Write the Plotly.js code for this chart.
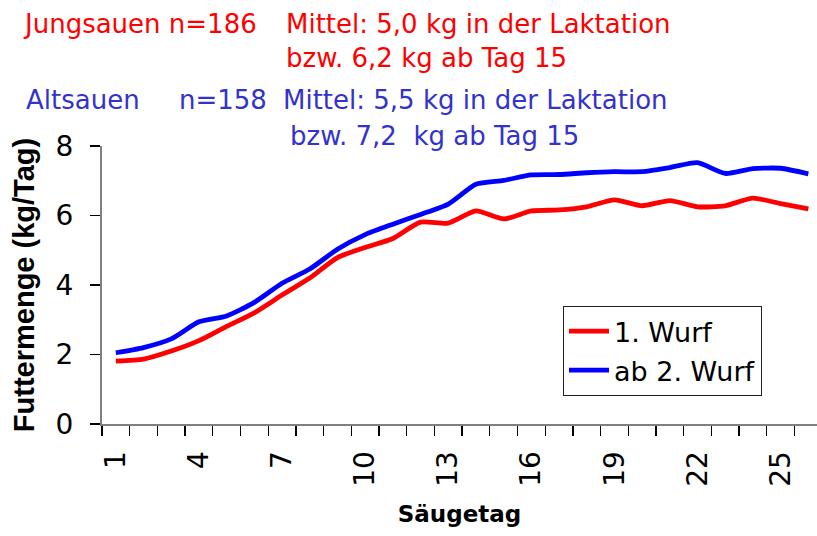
<!DOCTYPE html>
<html>
<head>
<meta charset="utf-8">
<script src="https://cdn.plot.ly/plotly-3.0.1.min.js"></script>
<style>html,body{margin:0;padding:0;background:#fff;}#chart{width:817px;height:536px;}</style>
</head>
<body>
<div id="chart"></div>
<script>
// Säugetag (day of lactation)
const days = [1,2,3,4,5,6,7,8,9,10,11,12,13,14,15,16,17,18,19,20,21,22,23,24,25,26];
// 1. Wurf (Jungsauen) – Futtermenge kg/Tag
const wurf1 = [1.81,1.87,2.10,2.40,2.81,3.20,3.71,4.20,4.79,5.08,5.34,5.81,5.78,6.13,5.90,6.13,6.16,6.25,6.45,6.28,6.43,6.25,6.28,6.50,6.34,6.19];
// ab 2. Wurf (Altsauen)
const wurf2 = [2.05,2.20,2.45,2.94,3.11,3.50,4.05,4.46,5.03,5.45,5.75,6.03,6.33,6.90,7.01,7.17,7.18,7.23,7.26,7.26,7.38,7.52,7.21,7.35,7.36,7.20];
const xTickVals = [1,4,7,10,13,16,19,22,25];
const yTickVals = [0,2,4,6,8];
const seriesNames = ['1. Wurf','ab 2. Wurf'];
const headerRed = ['Jungsauen n=186', 'Mittel: 5,0 kg in der Laktation', 'bzw. 6,2 kg ab Tag 15'];
const headerBlue = ['Altsauen', 'n=158', 'Mittel: 5,5 kg in der Laktation', 'bzw. 7,2  kg ab Tag 15'];

const RED = '#ff0000', BLUE = '#0000ff', HRED = '#ff0000', HBLUE = '#3333cc';
const PL = 102, PT = 146, PW = 715, PH = 278;
const px = v => (v - PL) / PW;
const py = v => (PT + PH - v) / PH;

const traces = [
  {x: days, y: wurf1, name: seriesNames[0], type: 'scatter', mode: 'lines',
   line: {color: RED, width: 4.8, shape: 'spline', smoothing: 0.6}, legendgroup: 'a'},
  {x: days, y: wurf2, name: seriesNames[1], type: 'scatter', mode: 'lines',
   line: {color: BLUE, width: 4.8, shape: 'spline', smoothing: 0.6}, legendgroup: 'b'}
];

const hfont = c => ({family: 'DejaVu Sans', size: 26, color: c});
function ann(text, x, y, color) {
  return {text: text, xref: 'paper', yref: 'paper', x: px(x), y: py(y),
          xanchor: 'left', yanchor: 'middle', showarrow: false, font: hfont(color)};
}

const layout = {
  width: 817, height: 536,
  margin: {l: PL, r: 0, t: PT, b: 536 - PT - PH, pad: 0},
  paper_bgcolor: '#fff', plot_bgcolor: '#fff',
  showlegend: true,
  legend: {x: px(563), y: py(306), xanchor: 'left', yanchor: 'top',
           bgcolor: '#fff', bordercolor: '#222', borderwidth: 1,
           font: {family: 'DejaVu Sans', size: 27, color: '#000'},
           traceorder: 'grouped', tracegroupgap: 1, itemwidth: 40},
  xaxis: {
    range: [0.5, 0.5 + PW / 27.7], tickmode: 'array', tickvals: xTickVals,
    ticktext: xTickVals.map(String), tickangle: -90, ticks: '',
    minor: {tick0: 0.5, dtick: 1, ticks: 'outside', ticklen: 10, tickcolor: '#000', tickwidth: 1.3},
    ticklabelstandoff: 14,
    tickfont: {family: 'DejaVu Sans', size: 28, color: '#000'},
    showline: true, linecolor: '#808080', linewidth: 2, showgrid: false, zeroline: false,
    title: {text: 'Säugetag', font: {family: 'DejaVu Sans', size: 23, color: '#000', weight: 'bold'}, standoff: 20}
  },
  yaxis: {
    range: [0, 8], tickmode: 'array', tickvals: yTickVals, ticktext: yTickVals.map(String),
    ticks: 'outside', ticklen: 10, tickcolor: '#000', tickwidth: 1.3,
    ticklabelstandoff: 11,
    tickfont: {family: 'DejaVu Sans', size: 28, color: '#000'},
    showline: true, linecolor: '#808080', linewidth: 2, showgrid: false, zeroline: false,
    title: {text: 'Futtermenge (kg/Tag)', font: {family: 'Liberation Sans', size: 29, color: '#000', weight: 'bold'}, standoff: 12}
  },
  annotations: [
    ann(headerRed[0], 21, 23.5, HRED),
    ann(headerRed[1], 284, 23.5, HRED),
    ann(headerRed[2], 284, 58.5, HRED),
    ann(headerBlue[0], 23.5, 100.5, HBLUE),
    ann(headerBlue[1], 177, 100.5, HBLUE),
    ann(headerBlue[2], 281, 100.5, HBLUE),
    ann(headerBlue[3], 287.6, 135.5, HBLUE)
  ]
};

Plotly.newPlot('chart', traces, layout, {displayModeBar: false, staticPlot: true});
</script>
</body>
</html>
